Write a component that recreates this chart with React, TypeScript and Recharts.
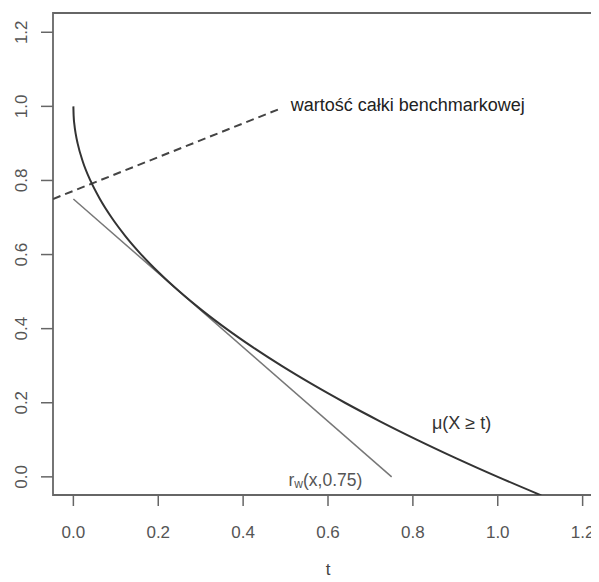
import React from 'react';
import { LineChart, Line, XAxis, YAxis, ReferenceArea, ReferenceDot, Label } from 'recharts';

// μ(X ≥ t) curve
const muT = [0, 0.000625, 0.0025, 0.00563, 0.01, 0.0225, 0.04, 0.0625, 0.09, 0.1225, 0.16, 0.2025, 0.25, 0.3025, 0.36, 0.4225, 0.49, 0.5625, 0.64, 0.7225, 0.81, 0.9025, 1.0, 1.1025];
const muY = [1.0, 0.975, 0.95, 0.925, 0.9, 0.85, 0.8, 0.75, 0.7, 0.65, 0.6, 0.55, 0.5, 0.45, 0.4, 0.35, 0.3, 0.25, 0.2, 0.15, 0.1, 0.05, 0.0, -0.05];

// r_w(x, 0.75) line
const rwT = [0, 0.75];
const rwY = [0.75, 0];

// dashed pointer to the benchmark value
const benchT = [-0.048, 0.49];
const benchY = [0.75, 0.995];

const xTicks = [0, 0.2, 0.4, 0.6, 0.8, 1.0, 1.2];
const yTicks = [0, 0.2, 0.4, 0.6, 0.8, 1.0, 1.2];
const xDomain = [-0.048, 1.248];
const yDomain = [-0.049, 1.252];

const zip = (xs: number[], ys: number[]) => xs.map((x, i) => ({ x, y: ys[i] }));
const muData = zip(muT, muY);
const rwData = zip(rwT, rwY);
const benchData = zip(benchT, benchY);

const FONT = '"Liberation Sans", Arial, sans-serif';

const XTick = (props: any) => {
  const { x, y, payload } = props;
  return (
    <text x={x} y={y + 26} textAnchor="middle" dominantBaseline="central" fontFamily={FONT} fontSize={17} fill="#555">
      {Number(payload.value).toFixed(1)}
    </text>
  );
};

const YTick = (props: any) => {
  const { x, y, payload } = props;
  const cx = x - 19;
  return (
    <text x={cx} y={y} transform={`rotate(-90 ${cx} ${y})`} textAnchor="middle" dominantBaseline="central" fontFamily={FONT} fontSize={17} fill="#555">
      {Number(payload.value).toFixed(1)}
    </text>
  );
};

const textAt = (content: React.ReactNode, size: number, color: string) => (props: any) => {
  const { viewBox } = props;
  return (
    <text x={viewBox.x} y={viewBox.y} dominantBaseline="central" fontFamily={FONT} fontSize={size} fill={color}>
      {content}
    </text>
  );
};

export default function App() {
  return (
    <div style={{ width: 591, height: 574, overflow: 'hidden', background: '#fff' }}>
      <LineChart width={600} height={574} margin={{ top: 5, right: 5, bottom: 0, left: 0 }}>
        <XAxis
          type="number"
          dataKey="x"
          domain={xDomain}
          allowDataOverflow
          ticks={xTicks}
          interval={0}
          axisLine={false}
          tickLine={{ stroke: '#666', strokeWidth: 1.5 }}
          tickSize={11}
          tickMargin={0}
          tick={<XTick />}
          height={87}
        >
          <Label
            content={(p: any) => (
              <text x={p.viewBox.x + p.viewBox.width / 2} y={p.viewBox.y + 74} textAnchor="middle" dominantBaseline="central" fontFamily={FONT} fontSize={17} fill="#444">
                t
              </text>
            )}
          />
        </XAxis>
        <YAxis
          type="number"
          domain={yDomain}
          allowDataOverflow
          ticks={yTicks}
          interval={0}
          axisLine={false}
          tickLine={{ stroke: '#666', strokeWidth: 1.5 }}
          tickSize={12}
          tickMargin={0}
          tick={<YTick />}
          width={45}
        />
        <ReferenceArea x1={xDomain[0]} x2={xDomain[1]} y1={yDomain[0]} y2={yDomain[1]} fill="none" stroke="#666" strokeWidth={1.8} />
        <Line data={benchData} dataKey="y" type="linear" stroke="#444" strokeWidth={2} strokeDasharray="8 5" dot={false} isAnimationActive={false} />
        <Line data={rwData} dataKey="y" type="linear" stroke="#777" strokeWidth={1.5} dot={false} isAnimationActive={false} />
        <Line data={muData} dataKey="y" type="monotone" stroke="#333" strokeWidth={2} dot={false} isAnimationActive={false} />
        <ReferenceDot x={0.512} y={1.005} r={0} fill="none" stroke="none" label={textAt('wartość całki benchmarkowej', 18, '#222')} />
        <ReferenceDot x={0.845} y={0.145} r={0} fill="none" stroke="none" label={textAt('μ(X ≥ t)', 18, '#333')} />
        <ReferenceDot
          x={0.507}
          y={-0.008}
          r={0}
          fill="none"
          stroke="none"
          label={textAt(
            <>
              r<tspan fontSize={12} dy={4}>w</tspan>
              <tspan dy={-4}>(x,0.75)</tspan>
            </>,
            17.5,
            '#555'
          )}
        />
      </LineChart>
    </div>
  );
}
